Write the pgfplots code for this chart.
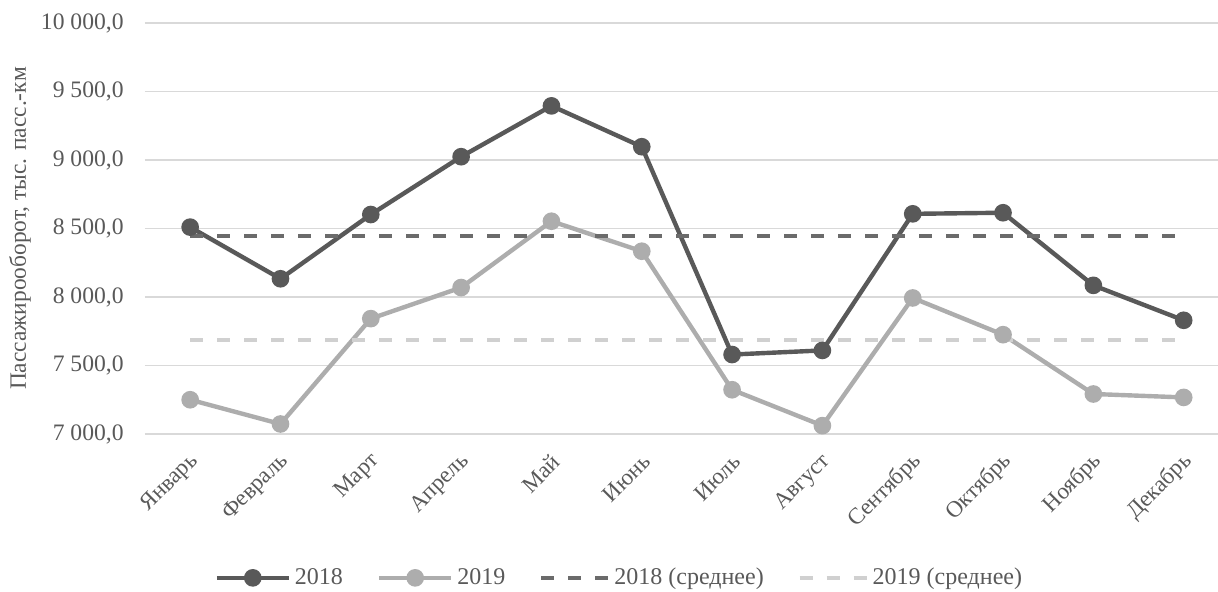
\documentclass[border=0pt]{standalone}
\usepackage{pgfplots}
\pgfplotsset{compat=1.18}
\usepackage{fontspec}
\setmainfont{Liberation Serif}
\definecolor{cA}{HTML}{595959}
\definecolor{cB}{HTML}{ADADAD}
\definecolor{cAm}{HTML}{6B6B6B}
\definecolor{cBm}{HTML}{D0D0D0}
\definecolor{cGrid}{HTML}{D9D9D9}
\definecolor{cTxt}{HTML}{595959}
\pgfplotsset{dashleg/.style={legend image code/.code={\draw[##1] (0pt,0pt) -- (33.5pt,0pt);}}}
\begin{document}
\begin{tikzpicture}
\begin{axis}[
  scale only axis, width=536.5pt, height=205.5pt,
  xmin=-0.5, xmax=11.38, ymin=7000, ymax=10000,
  scaled y ticks=false,
  axis line style={draw=none},
  major tick length=0pt,
  ymajorgrids, grid style={cGrid, line width=0.8pt},
  ytick={7000,7500,8000,8500,9000,9500,10000},
  yticklabels={{7 000,0},{7 500,0},{8 000,0},{8 500,0},{9 000,0},{9 500,0},{10 000,0}},
  xtick={0,...,11},
  xticklabels={Январь,Февраль,Март,Апрель,Май,Июнь,Июль,Август,Сентябрь,Октябрь,Ноябрь,Декабрь},
  yticklabel style={font=\fontsize{11.8}{13}\selectfont, text=cTxt, inner sep=0pt, anchor=east, xshift=-10.5pt},
  xticklabel style={font=\fontsize{11.5}{13}\selectfont, text=cTxt, inner sep=0pt, xshift=2.5pt, yshift=-12pt, rotate=45, anchor=east},
  ylabel={Пассажирооборот, тыс. пасс.-км},
  ylabel style={font=\fontsize{11.7}{14}\selectfont, text=cTxt, at={(axis description cs:-0.1165,0.5)}, anchor=center},
  legend columns=4,
  legend style={at={(axis description cs:0.443,-0.35)}, anchor=center, draw=none, fill=none,
    font=\fontsize{12}{14}\selectfont, text=cTxt,
    /tikz/every odd column/.append style={column sep=0pt},
    /tikz/every even column/.append style={column sep=15pt}},
  legend image code/.code={\draw[mark repeat=2,mark phase=2,#1] plot coordinates {(0pt,0pt) (18pt,0pt) (36pt,0pt)};},
  clip=false,
]
\addplot[cA, line width=2.2pt, mark=*, mark size=3.3pt, mark options={solid, fill=cA, draw=cA}]
  coordinates {(0,8510) (1,8133) (2,8602) (3,9024) (4,9395) (5,9097) (6,7580) (7,7610) (8,8607) (9,8615) (10,8085) (11,7830)};
\addlegendentry{2018}
\addplot[cB, line width=2.2pt, mark=*, mark size=3.3pt, mark options={solid, fill=cB, draw=cB}]
  coordinates {(0,7250) (1,7073) (2,7842) (3,8069) (4,8553) (5,8334) (6,7323) (7,7061) (8,7993) (9,7725) (10,7292) (11,7267)};
\addlegendentry{2019}
\addplot[cAm, line width=2pt, dash pattern=on 6.5pt off 7pt, dashleg]
  coordinates {(0,8444) (11,8444)};
\addlegendentry{2018 (среднее)}
\addplot[cBm, line width=2pt, dash pattern=on 6.5pt off 7pt, dashleg]
  coordinates {(0,7685) (11,7685)};
\addlegendentry{2019 (среднее)}
\end{axis}
\pgfresetboundingbox
\path (-72.5pt,-79pt) rectangle (536.5pt,217pt);
\end{tikzpicture}
\end{document}
